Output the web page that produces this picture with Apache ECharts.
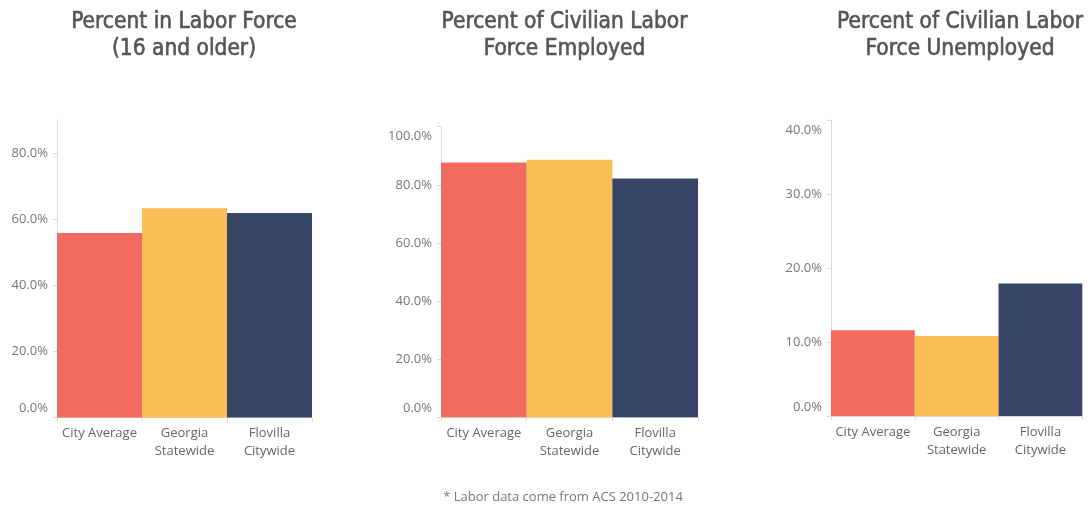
<!DOCTYPE html>
<html><head><meta charset="utf-8">
<script src="https://cdn.jsdelivr.net/npm/echarts@6/dist/echarts.min.js"></script>
<style>html,body{margin:0;padding:0;background:#fff}#c{width:1092px;height:508px}</style>
</head><body><div id="c"></div>
<script>
const categories = ['City Average', 'Georgia\nStatewide', 'Flovilla\nCitywide'];
const laborForce = [55.8, 63.3, 61.9];
const employed = [87.7, 88.6, 82.2];
const unemployed = [11.6, 10.8, 17.9];
const barColors = ['#f26b61', '#fdbe55', '#374667'];
const titles = ['Percent in Labor Force\n(16 and older)', 'Percent of Civilian Labor\nForce Employed', 'Percent of Civilian Labor\nForce Unemployed'];
const ticks1 = [0, 20, 40, 60, 80];
const ticks2 = [0, 20, 40, 60, 80, 100];
const ticks3 = [0, 10, 20, 30, 40];
const footnote = '* Labor data come from ACS 2010-2014';

const grids = [
  {left: 57, top: 120, width: 255, height: 297.6},
  {left: 441, top: 126.7, width: 257, height: 290.6},
  {left: 831, top: 120, width: 251.3, height: 296}
];
const ranges = [[0, 90, ticks1], [0, 100, ticks2], [0, 40, ticks3]];
const seriesData = [laborForce, employed, unemployed];
const titleCenters = [179, 559.5, 955];

const chart = echarts.init(document.getElementById('c'), null, {renderer: 'canvas'});
const labelFont = 'Open Sans';
const option = {
  backgroundColor: '#fff',
  animation: false,
  title: titles.map((t, i) => ({
    text: t, left: titleCenters[i], top: 4, textAlign: 'center',
    textStyle: {fontFamily: 'DejaVu Sans Condensed', fontSize: 22.5, fontWeight: 'normal', color: '#555', lineHeight: 27,
      textBorderColor: '#555', textBorderWidth: 0.6}
  })).concat([{
    text: footnote, left: 558, top: 486, textAlign: 'center',
    textStyle: {fontFamily: labelFont, fontSize: 13, fontWeight: 'normal', color: '#777'}
  }]),
  grid: grids.map(g => Object.assign({containLabel: false}, g)),
  xAxis: grids.map((g, i) => ({
    type: 'category', gridIndex: i, data: categories,
    axisLine: {show: true, lineStyle: {color: '#d9d9d9'}},
    axisTick: {show: true, interval: 0, length: 4, lineStyle: {color: '#d9d9d9'}},
    axisLabel: {interval: 0, margin: 7, color: '#666', fontFamily: labelFont, fontSize: 13, lineHeight: 18}
  })),
  yAxis: ranges.map((r, i) => ({
    type: 'value', gridIndex: i, min: r[0], max: r[1],
    splitLine: {show: false},
    axisLine: {show: true, lineStyle: {color: '#d9d9d9'}},
    axisTick: {show: true, length: 4, lineStyle: {color: '#d9d9d9'}, customValues: r[2]},
    axisLabel: {
      customValues: r[2], margin: 9, color: '#777', fontFamily: labelFont, fontSize: 13,
      formatter: v => {
        const s = v.toFixed(1) + '%';
        if (v === r[0]) return '{mn|' + s + '}';
        if (v === r[1]) return '{mx|' + s + '}';
        return s;
      },
      rich: {
        mn: {padding: [0, 0, 18, 0], color: '#777', fontFamily: labelFont, fontSize: 13},
        mx: {padding: [20, 0, 0, 0], color: '#777', fontFamily: labelFont, fontSize: 13}
      }
    }
  })),
  series: seriesData.map((d, i) => ({
    type: 'bar', xAxisIndex: i, yAxisIndex: i, barWidth: '100%', barGap: '0%',
    data: d.map((v, j) => ({value: v, itemStyle: {color: barColors[j]}}))
  }))
};
chart.setOption(option);
</script></body></html>
